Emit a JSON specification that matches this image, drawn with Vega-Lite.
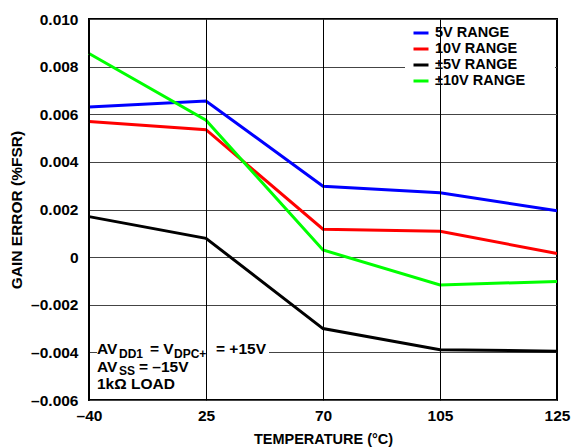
{
  "$schema": "https://vega.github.io/schema/vega-lite/v6.json",
  "width": 468,
  "height": 381,
  "autosize": {"type": "none"},
  "padding": {"left": 89, "top": 19, "right": 16, "bottom": 48},
  "background": "white",
  "config": {
    "font": "Liberation Sans",
    "view": {"stroke": "#000", "strokeWidth": 2},
    "axis": {
      "labelFont": "Liberation Sans", "labelFontWeight": "bold", "labelFontSize": 15.5, "labelColor": "#000",
      "titleFont": "Liberation Sans", "titleFontWeight": "bold", "titleFontSize": 15.5, "titleColor": "#000",
      "ticks": false, "domain": false, "gridWidth": 1, "gridOpacity": 1
    }
  },
  "layer": [
    {
      "data": {"values": [{"x0": -40, "x1": 70, "y0": -0.00335, "y1": -0.0059}]},
      "mark": {"type": "rect", "color": "white", "xOffset": 8, "x2Offset": -54},
      "encoding": {
        "x": {"field": "x0", "type": "ordinal"},
        "x2": {"field": "x1"},
        "y": {"field": "y0", "type": "quantitative"},
        "y2": {"field": "y1"}
      }
    },
    {
      "data": {"values": [{"x0": 105, "x1": 125, "y0": 0.0099, "y1": 0.00693}]},
      "mark": {"type": "rect", "color": "white", "xOffset": -35, "x2Offset": -2},
      "encoding": {
        "x": {"field": "x0", "type": "ordinal"},
        "x2": {"field": "x1"},
        "y": {"field": "y0", "type": "quantitative"},
        "y2": {"field": "y1"}
      }
    },
    {
      "data": {"values": [
        {"temp": -40, "series": "5V RANGE", "value": 0.0063},
        {"temp": 25, "series": "5V RANGE", "value": 0.00656},
        {"temp": 70, "series": "5V RANGE", "value": 0.00298},
        {"temp": 105, "series": "5V RANGE", "value": 0.0027},
        {"temp": 125, "series": "5V RANGE", "value": 0.00195},
        {"temp": -40, "series": "10V RANGE", "value": 0.0057},
        {"temp": 25, "series": "10V RANGE", "value": 0.00535},
        {"temp": 70, "series": "10V RANGE", "value": 0.00117},
        {"temp": 105, "series": "10V RANGE", "value": 0.00109},
        {"temp": 125, "series": "10V RANGE", "value": 0.00015},
        {"temp": -40, "series": "±5V RANGE", "value": 0.0017},
        {"temp": 25, "series": "±5V RANGE", "value": 0.00079},
        {"temp": 70, "series": "±5V RANGE", "value": -0.003},
        {"temp": 105, "series": "±5V RANGE", "value": -0.00389},
        {"temp": 125, "series": "±5V RANGE", "value": -0.00395},
        {"temp": -40, "series": "±10V RANGE", "value": 0.00855},
        {"temp": 25, "series": "±10V RANGE", "value": 0.00575},
        {"temp": 70, "series": "±10V RANGE", "value": 0.0003},
        {"temp": 105, "series": "±10V RANGE", "value": -0.00117},
        {"temp": 125, "series": "±10V RANGE", "value": -0.00102}
      ]},
      "mark": {"type": "line", "strokeWidth": 3},
      "encoding": {
        "x": {
          "field": "temp", "type": "ordinal",
          "scale": {"type": "point", "padding": 0, "domain": [-40, 25, 70, 105, 125]},
          "axis": {
            "title": "TEMPERATURE (°C)", "titleFontSize": 14.5, "labelAngle": 0, "labelPadding": 15, "titlePadding": 9,
            "labelFlush": false, "labelOverlap": false, "labelBound": false, "labelAlign": "center",
            "grid": true, "gridColor": "#000",
            "labelExpr": "datum.value < 0 ? '–' + abs(datum.value) : '' + datum.value"
          }
        },
        "y": {
          "field": "value", "type": "quantitative",
          "scale": {"domain": [-0.006, 0.010], "nice": false, "zero": false},
          "axis": {
            "title": "GAIN ERROR (%FSR)", "values": [-0.006, -0.004, -0.002, 0, 0.002, 0.004, 0.006, 0.008, 0.010],
            "labelPadding": 11, "titlePadding": 6, "grid": true, "gridColor": "#444",
            "labelFlush": false, "labelOverlap": false,
            "labelExpr": "datum.value == 0 ? '0' : (datum.value < 0 ? '–' : '') + format(abs(datum.value), '.3f')"
          }
        },
        "color": {
          "field": "series", "type": "nominal",
          "scale": {"domain": ["5V RANGE", "10V RANGE", "±5V RANGE", "±10V RANGE"], "range": ["#0000ff", "#ff0000", "#000000", "#00ff00"]},
          "legend": {
            "title": null, "orient": "none", "legendX": 323, "legendY": 5,
            "symbolType": "stroke", "symbolSize": 225, "symbolStrokeWidth": 3,
            "labelFont": "Liberation Sans", "labelFontWeight": "bold", "labelFontSize": 14.5, "labelColor": "#000",
            "labelOffset": 5, "rowPadding": 0, "padding": 0
          }
        },
        "order": {"field": "temp", "type": "quantitative"}
      }
    },
    {
      "data": {"values": [{"x": -40, "y": -0.00408, "t": "AV"}, {"x": -40, "y": -0.00481, "t": "AV"}, {"x": -40, "y": -0.00554, "t": "1kΩ LOAD"}]},
      "mark": {"type": "text", "align": "left", "baseline": "alphabetic", "dx": 8, "fontSize": 15.5, "fontWeight": "bold", "font": "Liberation Sans", "color": "#000"},
      "encoding": {"x": {"field": "x", "type": "ordinal"}, "y": {"field": "y", "type": "quantitative"}, "text": {"field": "t"}}
    },
    {
      "data": {"values": [{"x": -40, "y": -0.00408, "t": "DD1"}, {"x": -40, "y": -0.00481, "t": "SS"}]},
      "mark": {"type": "text", "align": "left", "baseline": "alphabetic", "dx": 30, "dy": 3.5, "fontSize": 12, "fontWeight": "bold", "font": "Liberation Sans", "color": "#000"},
      "encoding": {"x": {"field": "x", "type": "ordinal"}, "y": {"field": "y", "type": "quantitative"}, "text": {"field": "t"}}
    },
    {
      "data": {"values": [{"x": -40, "y": -0.00408, "t": "= V"}]},
      "mark": {"type": "text", "align": "left", "baseline": "alphabetic", "dx": 61, "fontSize": 15.5, "fontWeight": "bold", "font": "Liberation Sans", "color": "#000"},
      "encoding": {"x": {"field": "x", "type": "ordinal"}, "y": {"field": "y", "type": "quantitative"}, "text": {"field": "t"}}
    },
    {
      "data": {"values": [{"x": -40, "y": -0.00408, "t": "DPC+"}]},
      "mark": {"type": "text", "align": "left", "baseline": "alphabetic", "dx": 85, "dy": 3.5, "fontSize": 12, "fontWeight": "bold", "font": "Liberation Sans", "color": "#000"},
      "encoding": {"x": {"field": "x", "type": "ordinal"}, "y": {"field": "y", "type": "quantitative"}, "text": {"field": "t"}}
    },
    {
      "data": {"values": [{"x": -40, "y": -0.00408, "t": "= +15V"}]},
      "mark": {"type": "text", "align": "left", "baseline": "alphabetic", "dx": 127, "fontSize": 15.5, "fontWeight": "bold", "font": "Liberation Sans", "color": "#000"},
      "encoding": {"x": {"field": "x", "type": "ordinal"}, "y": {"field": "y", "type": "quantitative"}, "text": {"field": "t"}}
    },
    {
      "data": {"values": [{"x": -40, "y": -0.00481, "t": "= –15V"}]},
      "mark": {"type": "text", "align": "left", "baseline": "alphabetic", "dx": 50, "fontSize": 15.5, "fontWeight": "bold", "font": "Liberation Sans", "color": "#000"},
      "encoding": {"x": {"field": "x", "type": "ordinal"}, "y": {"field": "y", "type": "quantitative"}, "text": {"field": "t"}}
    }
  ]
}
